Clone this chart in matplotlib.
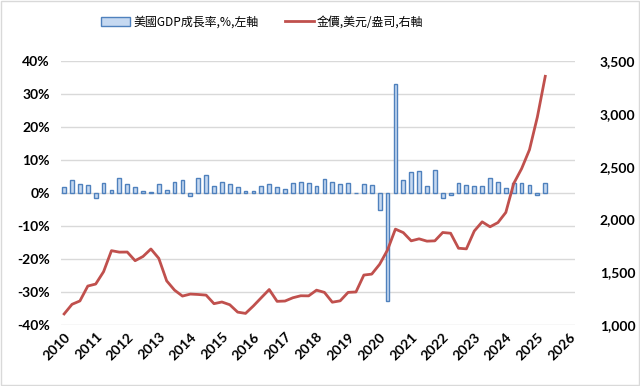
import matplotlib.pyplot as plt
import matplotlib.ticker as mticker
import numpy as np

# 2010Q1 - 2025Q2, quarterly
gdp = [1.9, 3.9, 2.7, 2.5, -1.5, 2.9, 0.9, 4.6,
       2.7, 1.9, 0.6, 0.2, 2.8, 0.9, 3.2, 4.0,
       -0.9, 4.5, 5.4, 2.1, 3.2, 2.8, 1.8, 0.6,
       0.6, 2.2, 2.8, 1.8, 1.2, 3.1, 3.2, 2.9,
       2.2, 4.2, 3.4, 2.6, 2.9, 0.0, 2.6, 2.5,
       -5.3, -32.8, 33.0, 3.9, 6.3, 6.7, 2.1, 7.0,
       -1.6, -0.6, 3.0, 2.5, 2.1, 2.1, 4.4, 3.2,
       1.6, 3.0, 3.1, 2.4, -0.5, 3.0]
gold = [1105, 1196, 1228, 1369, 1388, 1505, 1704, 1690,
        1691, 1609, 1649, 1720, 1631, 1418, 1330, 1274,
        1293, 1289, 1283, 1202, 1218, 1192, 1122, 1110,
        1181, 1259, 1336, 1224, 1227, 1258, 1277, 1276,
        1330, 1309, 1216, 1229, 1309, 1313, 1473, 1482,
        1575, 1710, 1908, 1875, 1797, 1816, 1794, 1797,
        1876, 1869, 1727, 1721, 1890, 1977, 1930, 1970,
        2066, 2340, 2480, 2660, 2970, 3355]
years = list(range(2010, 2027))

x = 2010 + np.arange(len(gdp)) / 4.0

plt.rcParams['font.family'] = ['Lato', 'DejaVu Sans']

fig = plt.figure(figsize=(6.4, 3.86), dpi=100)
fig.patches.append(plt.Rectangle((0.002, 0.002), 0.996, 0.996, transform=fig.transFigure,
                                 fill=False, edgecolor='#d9d9d9', linewidth=1))
ax = fig.add_axes([0.0953, 0.158, 0.803, 0.684])
ax2 = ax.twinx()

bars = ax.bar(x, gdp, width=0.12, color='#c6d9f1', edgecolor='#4f81bd', linewidth=1.0,
              label='美國GDP成長率,%,左軸', zorder=2)
line, = ax2.plot(x, gold, color='#c0504d', linewidth=2, label='金價,美元/盎司,右軸', zorder=3)

ax.set_ylim(-40, 40)
ax.set_yticks(range(-40, 41, 10))
ax.yaxis.set_major_formatter(mticker.FuncFormatter(lambda v, p: f'{int(v)}%'))
ax2.set_ylim(1000, 3500)
ax2.set_yticks(range(1000, 3501, 500))
ax2.yaxis.set_major_formatter(mticker.FuncFormatter(lambda v, p: f'{int(v):,}'))

ax.set_xlim(2009.9, 2026.19)
ax.set_xticks(years)
ax.set_xticklabels([str(y) for y in years], rotation=45, ha='right', rotation_mode='anchor')

ax.grid(axis='y', color='#d9d9d9', linewidth=1, zorder=0)
ax.set_axisbelow(True)
for a in (ax, ax2):
    for s in a.spines.values():
        s.set_visible(False)
    a.tick_params(length=0, labelsize=10)
    for lab in a.get_xticklabels() + a.get_yticklabels():
        lab.set_fontweight('bold')
ax.tick_params(axis='y', pad=8)
ax.tick_params(axis='x', pad=4)
ax2.tick_params(axis='y', pad=18)

fig.legend(handles=[bars, line], loc='center', bbox_to_anchor=(0.41, 0.943),
           ncol=2, frameon=False, prop={'family': ['Noto Sans CJK TC', 'DejaVu Sans'], 'size': 8.6},
           handlelength=2.4, columnspacing=2.2, handletextpad=0.3)

fig.savefig('out.png', dpi=100)
